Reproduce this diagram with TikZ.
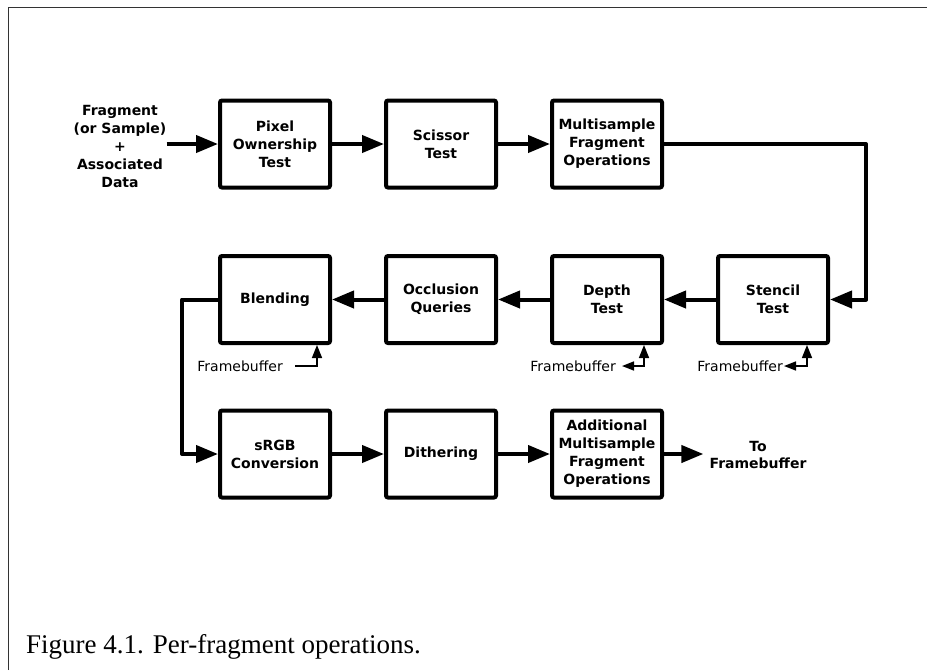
\documentclass[tikz,border=0pt]{standalone}
\usepackage{fontspec}
\setmainfont{DejaVu Sans}
\newfontfamily\capfont{Liberation Serif}
\usetikzlibrary{arrows.meta}

\tikzset{
  stage/.style={draw=black, line width=4pt, rounded corners=2pt,
    minimum width=110pt, minimum height=87pt, align=center,
    font=\fontsize{14}{18}\selectfont\bfseries},
  flow/.style={line width=4pt, line join=round, -{Triangle[length=22pt,width=17pt]}},
  fb/.style={font=\fontsize{14}{17}\selectfont},
  fbline/.style={line width=1.5pt, -{Triangle[length=13pt,width=10pt]}},
  fbboth/.style={line width=1.5pt, {Triangle[length=12pt,width=9pt]}-{Triangle[length=13pt,width=10pt]}},
  framegray/.style={draw=black!80, line width=1pt}
}

\begin{document}
\begin{tikzpicture}[x=1pt,y=1pt]
\tikzstyle{every node}+=[inner sep=0pt]
\useasboundingbox (0,0) rectangle (927,-670);
\draw [framegray] (8,-670) -- (8,-7) -- (927,-7);
\node [align=center, font=\fontsize{14}{18}\selectfont\bfseries] (input) at (120,-146) {Fragment\\(or Sample)\\+\\Associated\\Data};
\node [stage] (pixel) at (275,-144) {Pixel\\Ownership\\Test};
\node [stage] (scissor) at (441,-144) {Scissor\\Test};
\node [stage] (msfrag) at (607,-144) {Multisample\\Fragment\\Operations};
\node [stage] (stencil) at (773,-299.5) {Stencil\\Test};
\node [stage] (depth) at (607,-299.5) {Depth\\Test};
\node [stage] (occl) at (441,-299.5) {Occlusion\\Queries};
\node [stage] (blend) at (275,-299.5) {Blending};
\node [stage] (srgb) at (275,-454) {sRGB\\Conversion};
\node [stage] (dither) at (441,-454) {Dithering};
\node [stage] (addms) at (607,-454) {Additional\\Multisample\\Fragment\\Operations};
\node [align=center, font=\fontsize{14}{17}\selectfont\bfseries] (tofb) at (758,-455) {To\\Framebuffer};
\coordinate (rturn) at (866,-144);
\coordinate (lturn) at (182,-299.5);
\draw [flow] (input.east |- pixel) -- (pixel.west);
\draw [flow] (pixel) -- (scissor);
\draw [flow] (scissor) -- (msfrag);
\draw [flow] (msfrag.east) -- (rturn) |- (stencil.east);
\draw [flow] (stencil) -- (depth);
\draw [flow] (depth) -- (occl);
\draw [flow] (occl) -- (blend);
\draw [flow] (blend.west) -- (lturn) |- (srgb.west);
\draw [flow] (srgb) -- (dither);
\draw [flow] (dither) -- (addms);
\draw [flow] (addms.east) -- ([xshift=-6pt]addms.east -| tofb.west);
\node [fb, anchor=east] (fbblend) at (283,-366) {Framebuffer};
\node [fb, anchor=east] (fbdepth) at (616,-366) {Framebuffer};
\node [fb, anchor=east] (fbstencil) at (783,-366) {Framebuffer};
\coordinate (blendin) at (317,-366);
\coordinate (depthin) at (644,-366);
\coordinate (stencilin) at (807,-366);
\draw [fbline] ([xshift=12pt]fbblend.east) -- (blendin) -- (blendin |- blend.south);
\draw [fbboth] ([xshift=6pt]fbdepth.east) -- (depthin) -- (depthin |- depth.south);
\draw [fbboth] ([xshift=1pt]fbstencil.east) -- (stencilin) -- (stencilin |- stencil.south);
\node [anchor=base west, font=\capfont\fontsize{27}{30}\selectfont] (caption) at (26,-653) {Figure 4.1. Per-fragment operations.};
\end{tikzpicture}
\end{document}
